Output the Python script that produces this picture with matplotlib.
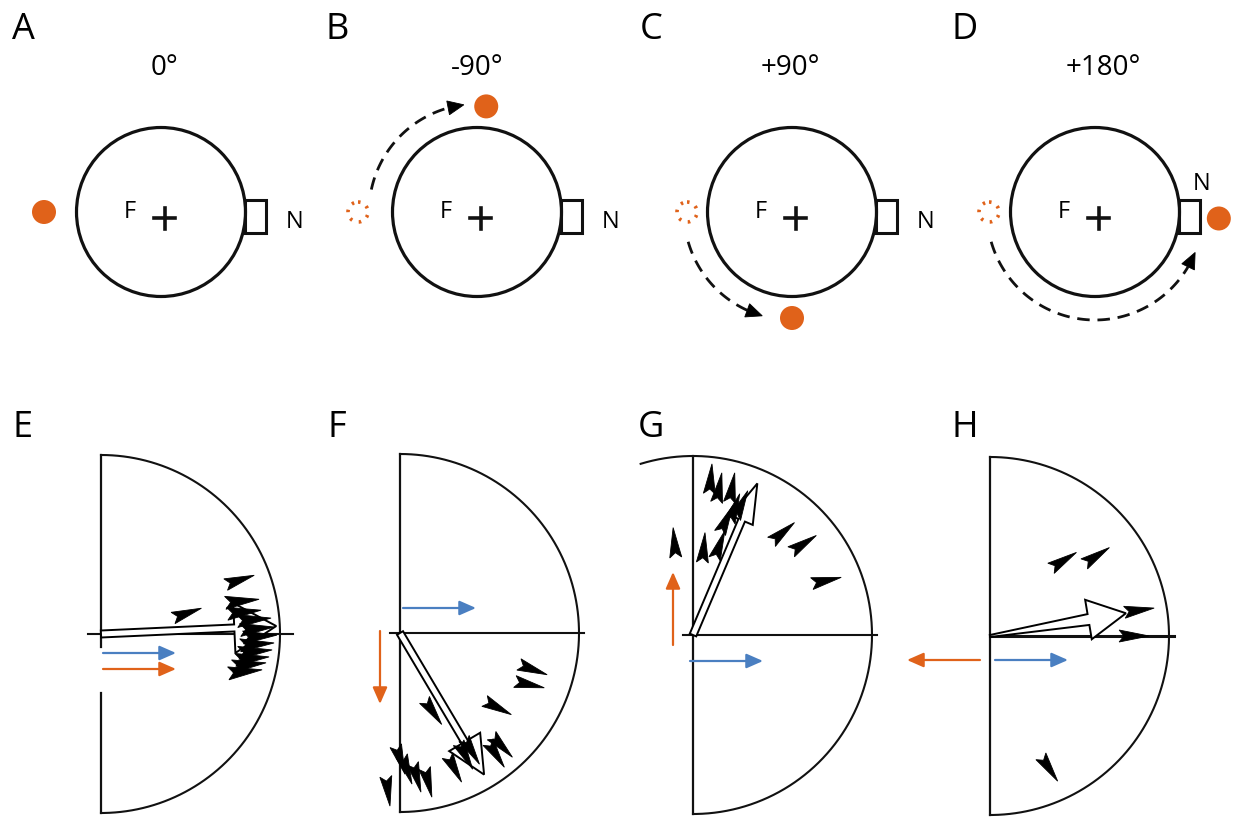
#!/usr/bin/env python3
"""Landmark shift experiment: arena sketches (A-D) and homing vectors (E-H)."""
import matplotlib.pyplot as plt
import numpy as np
from matplotlib.patches import Circle, Polygon, Rectangle

plt.rcParams['font.family'] = ['Open Sans', 'DejaVu Sans']

ORANGE = '#e0621a'
BLUE = '#4a7fc1'

# ---- top row: landmark rotation ----
top_labels = ['A', 'B', 'C', 'D']
top_titles = ['0°', '-90°', '+90°', '+180°']
top_cx = [161, 477, 792, 1095]
landmark_ang = [180, 85, 270, 357]        # final landmark bearing (deg)
landmark_dist = [117, 106, 106, 124]
start_ang = [None, 180, 180, 180]          # original landmark position
start_dist = [None, 119, 105, 106]
arc_from = [None, 168, 196, 196]           # dashed path of the shift
arc_to = [None, 97, 254, 338]

# ---- bottom row: individual homing endpoints (fraction of arena radius) ----
bot_labels = ['E', 'F', 'G', 'H']
bot_cx = [101, 400, 693, 990]
bot_cy = [634, 633, 635, 636]
orange_dir = [0, -90, 90, 180]
blue_dir = [0, 0, 0, 0]

e_u = [0.561, 0.856, 0.883, 0.894, 0.95, 0.967, 0.983, 0.967, 0.956, 0.939, 0.922, 0.9]
e_v = [0.144, 0.328, 0.194, 0.133, 0.089, 0.039, -0.006, -0.05, -0.089, -0.128, -0.161, -0.2]
e_h = [19, 18, 6, 6, 5, 5, 4, 4, 5, 5, 6, 6]

f_u = [0.233, 0.822, 0.806, 0.622, 0.628, 0.583, 0.444, 0.406, 0.344,
       0.028, 0.067, 0.117, 0.178, -0.056]
f_v = [-0.511, -0.233, -0.306, -0.456, -0.694, -0.75, -0.733, -0.761, -0.833,
       -0.789, -0.844, -0.889, -0.917, -0.967]
f_h = [-55, -20, -12, -27, -46, -57, -59, -62, -62, -72, -70, -74, -76, -82]

g_u = [-0.111, 0.067, 0.178, 0.106, 0.161, 0.233, 0.261, 0.306, 0.222, 0.567, 0.689, 0.828]
g_v = [0.6, 0.572, 0.583, 0.956, 0.906, 0.906, 0.789, 0.806, 0.722, 0.628, 0.556, 0.322]
g_h = [95, 85, 70, 85, 80, 80, 70, 65, 65, 40, 33, 12]

h_u = [0.483, 0.667, 0.917, 0.889, 0.378]
h_v = [0.467, 0.494, 0.156, 0.0, -0.811]
h_h = [32, 33, 8, 0, -56]

mean_ang = [2.6, -59.3, 67, 9.5]
mean_len = [0.98, 0.92, 0.92, 0.77]

letter_x = [23, 337, 651, 965]
title_x = [164, 477, 790, 1103]
R = 179


def to_screen(th):
    t = np.radians(th)
    return np.array([np.cos(t), -np.sin(t)]), np.array([np.sin(t), np.cos(t)])


def dart(ax, tip, heading, L=30, W=12, notch=0.16, z=4):
    d, p = to_screen(heading)
    tip = np.asarray(tip, float)
    base = tip - L * d
    pts = [tip, base + W / 2 * p, base + notch * L * d, base - W / 2 * p]
    ax.add_patch(Polygon(pts, closed=True, fc='k', ec='k', lw=0.6, zorder=z))


def open_arrow(ax, org, ang, length, s0, s1, hw, hl):
    d, p = to_screen(ang)
    org = np.asarray(org, float)
    tip = org + length * d
    se = tip - hl * d
    pts = [org + s0 * p, se + s1 * p, se + hw * p, tip,
           se - hw * p, se - s1 * p, org - s0 * p]
    ax.add_patch(Polygon(pts, closed=True, fc='white', ec='k', lw=1.4, zorder=3))


def cue(ax, start, ang, color, length=73):
    d, _ = to_screen(ang)
    end = np.asarray(start) + length * d
    ax.annotate('', xy=end, xytext=start,
                arrowprops=dict(arrowstyle='-|>,head_length=0.5,head_width=0.22',
                                color=color, lw=1.6, mutation_scale=20,
                                shrinkA=0, shrinkB=0), zorder=5)


fig = plt.figure(figsize=(12.37, 8.18), dpi=100)
ax = fig.add_axes([0, 0, 1, 1])
ax.set_xlim(0, 1237)
ax.set_ylim(818, 0)
ax.axis('off')

cy = 212
for i, cx in enumerate(top_cx):
    ax.text(letter_x[i], 39, top_labels[i], fontsize=26, ha='center', va='baseline')
    ax.text(title_x[i], 75, top_titles[i], fontsize=20, ha='center', va='baseline')
    ax.add_patch(Circle((cx, cy), 84.5, fill=False, ec='#111', lw=2.3))
    ax.add_patch(Rectangle((cx + 84, cy - 12), 21, 33, fill=False, ec='#111', lw=2.2))
    ax.text(cx - 31, cy + 6, 'F', fontsize=17, ha='center', va='baseline')
    ax.plot([cx - 7, cx + 14], [cy + 6, cy + 6], color='#111', lw=2.6)
    ax.plot([cx + 3.5, cx + 3.5], [cy - 4.5, cy + 16.5], color='#111', lw=2.6)
    if i == 3:
        ax.text(cx + 107, cy - 22, 'N', fontsize=17, ha='center', va='baseline')
    else:
        ax.text(cx + 134, cy + 16, 'N', fontsize=17, ha='center', va='baseline')
    d, _ = to_screen(landmark_ang[i])
    lm = np.array([cx, cy]) + landmark_dist[i] * d
    ax.add_patch(Circle(lm, 12, fc=ORANGE, ec='none'))
    if start_ang[i] is not None:
        d, _ = to_screen(start_ang[i])
        sp = np.array([cx, cy]) + start_dist[i] * d
        ax.add_patch(Circle(sp, 10, fill=False, ec=ORANGE, lw=2.6,
                            linestyle=(0, (0.7, 1.9))))
        r = 108
        a0, a1 = arc_from[i], arc_to[i]
        sgn = np.sign(a1 - a0)
        hl = 16
        a_line = a1 - sgn * np.degrees(hl / r)
        th = np.radians(np.linspace(a0, a_line, 80))
        ax.plot(cx + r * np.cos(th), cy - r * np.sin(th), color='#111', lw=2.0,
                linestyle=(0, (4.5, 2.8)))
        tip = (cx + r * np.cos(np.radians(a1)), cy - r * np.sin(np.radians(a1)))
        dart(ax, tip, a1 + sgn * 90 - sgn * 4, L=hl, W=14, notch=0.0)

# bottom row
us = [e_u, f_u, g_u, h_u]
vs = [e_v, f_v, g_v, h_v]
hs = [e_h, f_h, g_h, h_h]
for i, cx in enumerate(bot_cx):
    by = bot_cy[i]
    ax.text(letter_x[i], 437, bot_labels[i], fontsize=26, ha='center', va='baseline')
    a_start = 107 if i == 2 else 90
    th = np.radians(np.linspace(a_start, -90, 200))
    ax.plot(cx + R * np.cos(th), by - R * np.sin(th), color='#111', lw=1.5)
    if i == 0:
        ax.plot([cx, cx], [by - R, by + 13], color='#111', lw=1.6)
        ax.plot([cx, cx], [by + 59, by + R], color='#111', lw=1.6)
        ax.plot([cx - 13, cx + R + 13], [by, by], color='#111', lw=1.5)
    else:
        ax.plot([cx, cx], [by - R, by + R], color='#111', lw=1.6)
        x0 = cx if i == 3 else cx - 10
        ax.plot([x0, cx + R + 5], [by, by], color='#111',
                lw=2.2 if i == 3 else 1.5)

    if i == 0:
        open_arrow(ax, (cx, by), mean_ang[i], mean_len[i] * R, 3.5, 3.5, 25, 42)
    elif i == 1:
        open_arrow(ax, (cx, by), mean_ang[i], mean_len[i] * R, 3.5, 3.5, 18, 38)
    elif i == 2:
        open_arrow(ax, (cx, by), mean_ang[i], mean_len[i] * R, 3.5, 3.5, 12, 40)
    else:
        open_arrow(ax, (cx, by), mean_ang[i], mean_len[i] * R, 1.0, 5.5, 20, 38)

    for k, (u, v, h) in enumerate(zip(us[i], vs[i], hs[i])):
        if i == 0 and k >= 2:
            dart(ax, (cx + u * R, by - v * R), h, L=34, W=13)
        else:
            dart(ax, (cx + u * R, by - v * R), h, L=30, W=12)

    if i == 0:
        cue(ax, (cx + 2, by + 19), blue_dir[i], BLUE)
        cue(ax, (cx + 2, by + 35), orange_dir[i], ORANGE)
    elif i == 1:
        cue(ax, (cx + 3, by - 25), blue_dir[i], BLUE)
        cue(ax, (cx - 20, by - 2), orange_dir[i], ORANGE)
    elif i == 2:
        cue(ax, (cx - 20, by + 10), orange_dir[i], ORANGE)
        cue(ax, (cx - 3, by + 26), blue_dir[i], BLUE)
    else:
        cue(ax, (cx - 10, by + 24), orange_dir[i], ORANGE)
        cue(ax, (cx + 5, by + 24), blue_dir[i], BLUE)

fig.savefig('out.png', dpi=100, facecolor='white')
